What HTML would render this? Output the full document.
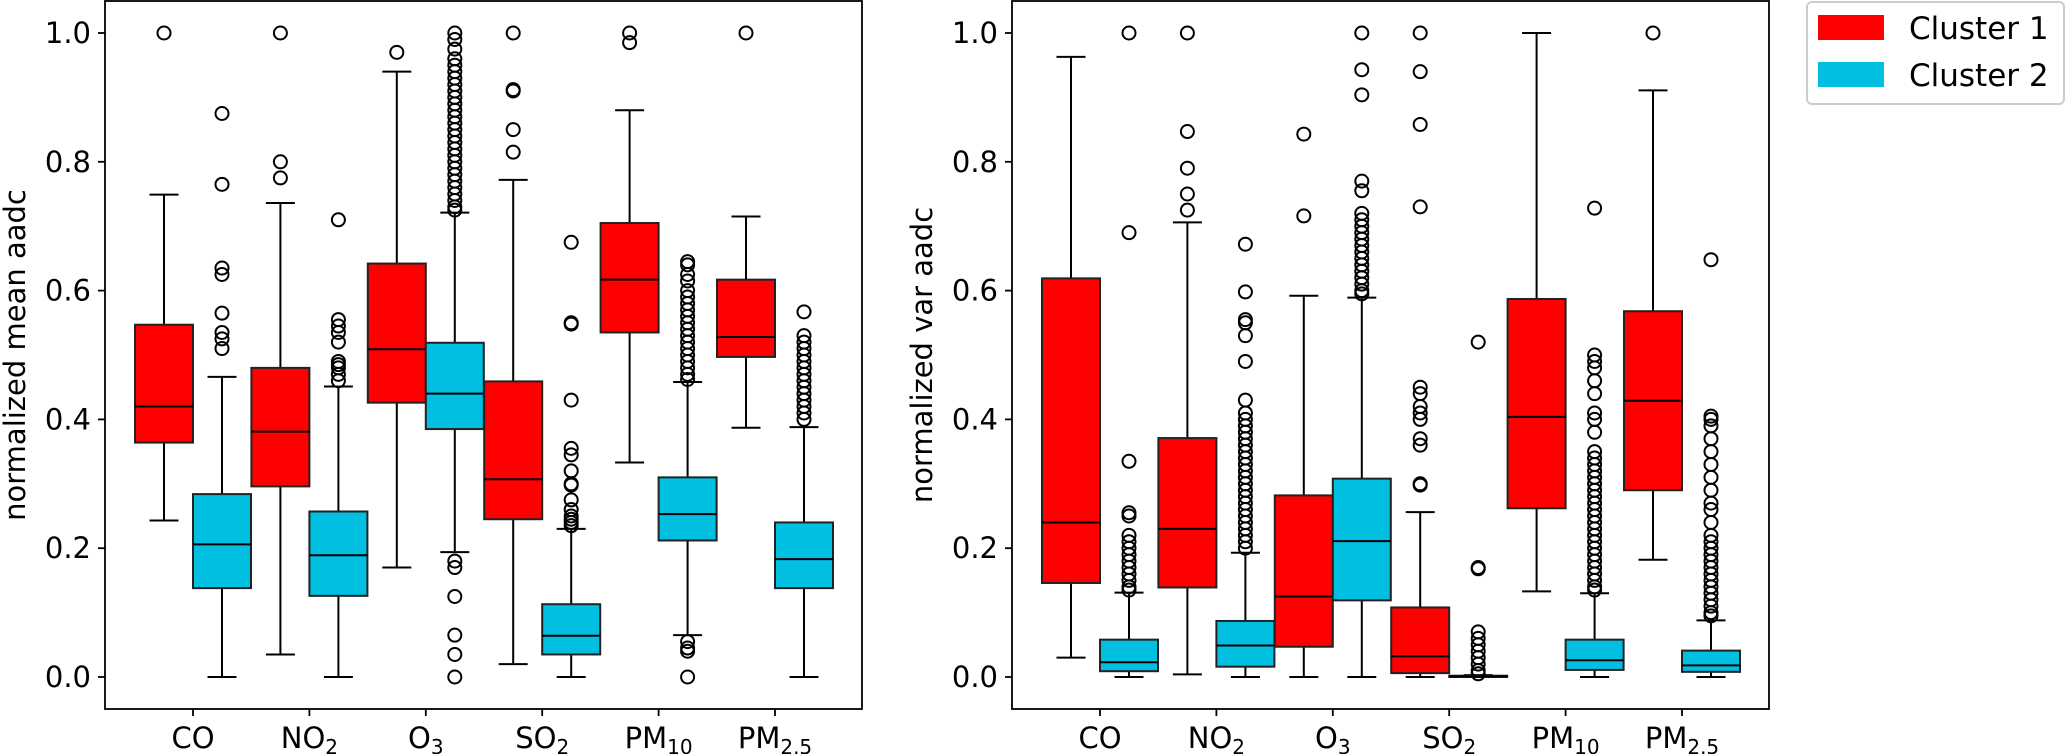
<!DOCTYPE html>
<html><head><meta charset="utf-8"><style>
html,body{margin:0;padding:0;background:#fff;}
svg{display:block;font-family:"DejaVu Sans","Liberation Sans",sans-serif;}
</style></head><body>
<svg id="chart" width="2067" height="754" viewBox="0 0 2067 754" xmlns="http://www.w3.org/2000/svg">
<g id="legend">
<rect x="1807" y="2" width="257" height="102" rx="5" fill="#fff" stroke="#ccc" stroke-width="2"/>
<g><rect x="1818" y="15" width="66" height="25" fill="#ff0000"/><text x="1909" y="39" font-size="31">Cluster 1</text></g>
<g><rect x="1818" y="62" width="66" height="25" fill="#00bfe0"/><text x="1909" y="86" font-size="31">Cluster 2</text></g>
</g>
</svg>
<script>
const categories = ["CO","NO2","O3","SO2","PM10","PM2.5"];
const yTicks = [0.0,0.2,0.4,0.6,0.8,1.0];
// [whiskerLow, Q1, median, Q3, whiskerHigh] per category
const meanCluster1 = [[0.243,0.364,0.42,0.547,0.749],[0.035,0.296,0.381,0.48,0.736],[0.17,0.426,0.509,0.642,0.94],[0.02,0.245,0.307,0.459,0.772],[0.333,0.535,0.617,0.705,0.88],[0.387,0.497,0.528,0.617,0.715]];
const meanCluster2 = [[0,0.138,0.206,0.284,0.466],[0,0.126,0.189,0.257,0.451],[0.194,0.385,0.44,0.519,0.721],[0,0.035,0.064,0.113,0.23],[0.065,0.212,0.253,0.31,0.458],[0,0.138,0.183,0.24,0.388]];
const meanOut1 = [[1.0],[1.0,0.80,0.775],[0.97],[1.0,0.912,0.91,0.85,0.815],[1.0,0.985],[1.0]];
const meanOut2 = [
 [0.875,0.765,0.635,0.625,0.565,0.535,0.525,0.51],
 [0.71,0.555,0.545,0.535,0.52,0.49,0.485,0.48,0.47,0.46],
 [1.0,0.99,0.975,0.96,0.95,0.94,0.93,0.92,0.91,0.9,0.89,0.88,0.87,0.86,0.85,0.84,0.83,0.82,0.81,0.8,0.79,0.78,0.77,0.76,0.75,0.74,0.73,0.725,0.18,0.17,0.125,0.065,0.035,0],
 [0.675,0.55,0.548,0.43,0.355,0.345,0.32,0.3,0.298,0.275,0.26,0.25,0.245,0.24,0.235],
 [0.645,0.64,0.625,0.615,0.6,0.59,0.58,0.57,0.56,0.55,0.54,0.53,0.52,0.51,0.5,0.49,0.48,0.47,0.462,0.055,0.045,0.04,0],
 [0.567,0.53,0.52,0.51,0.5,0.49,0.48,0.47,0.46,0.45,0.44,0.43,0.42,0.41,0.4]];
const varCluster1 = [[0.03,0.146,0.24,0.619,0.963],[0.004,0.139,0.23,0.371,0.706],[0,0.047,0.125,0.282,0.592],[0,0.006,0.032,0.108,0.256],[0.133,0.262,0.404,0.587,1.0],[0.182,0.29,0.429,0.568,0.911]];
const varCluster2 = [[0,0.009,0.023,0.058,0.131],[0,0.016,0.049,0.087,0.193],[0,0.119,0.211,0.308,0.589],[0,0,0.001,0.002,0.003],[0,0.011,0.026,0.058,0.13],[0,0.008,0.018,0.041,0.088]];
const varOut1 = [[],[1.0,0.847,0.79,0.75,0.725],[0.843,0.716],[1.0,0.94,0.858,0.73,0.45,0.44,0.42,0.41,0.4,0.37,0.36,0.3,0.298],[],[1.0]];
const varOut2 = [
 [1.0,0.69,0.335,0.255,0.25,0.22,0.21,0.2,0.19,0.18,0.17,0.16,0.15,0.14,0.135],
 [0.672,0.598,0.555,0.55,0.53,0.49,0.43,0.41,0.4,0.39,0.38,0.37,0.36,0.35,0.34,0.33,0.32,0.31,0.3,0.29,0.28,0.27,0.26,0.25,0.24,0.23,0.22,0.21,0.2],
 [1.0,0.943,0.904,0.77,0.755,0.72,0.71,0.7,0.69,0.68,0.67,0.66,0.65,0.64,0.63,0.62,0.61,0.6,0.595],
 [0.52,0.17,0.168,0.07,0.06,0.05,0.04,0.03,0.02,0.01,0.005],
 [0.728,0.5,0.49,0.48,0.46,0.44,0.41,0.4,0.38,0.35,0.34,0.33,0.32,0.31,0.3,0.29,0.28,0.27,0.26,0.25,0.24,0.23,0.22,0.21,0.2,0.19,0.18,0.17,0.16,0.15,0.14,0.135],
 [0.648,0.405,0.4,0.39,0.37,0.35,0.33,0.31,0.29,0.27,0.26,0.24,0.22,0.21,0.2,0.19,0.18,0.17,0.16,0.15,0.14,0.13,0.12,0.11,0.1,0.095]];

const NS = "http://www.w3.org/2000/svg";
const svg = document.getElementById('chart');
const Y0 = 677, YS = 644;
function yScale(v){ return Y0 - v*YS; }
function mk(tag, attrs, parent){ const e=document.createElementNS(NS,tag); for(const k in attrs) e.setAttribute(k,attrs[k]); parent.appendChild(e); return e; }

function panel(left, right, firstTick, c1, c2, o1, o2, ylabel, pname){
  const g = mk('g',{},svg);
  
  
  const step = 116.4, bw = 58;
  function xScale(i){ return firstTick + i*step; }
  yTicks.forEach(t=>{
    const y=yScale(t);
    const l=mk('line',{x1:left-7,x2:left,y1:y,y2:y,stroke:'#000','stroke-width':1.8},g);
    
    
    const tx=mk('text',{x:left-14,y:y+10,'font-size':29,'text-anchor':'end'},g);
    tx.textContent=t.toFixed(1);
    
    
  });
  const yl=mk('text',{x:0,y:0,'font-size':29,'text-anchor':'middle',transform:`translate(${left-80},${355}) rotate(-90)`},g);
  yl.textContent=ylabel;
  
  
  function drawBox(d, outs, x0, color, name){
    const bg=mk('g',{},g);
    
    
    const cx=x0+bw/2;
    const [lo,q1,md,q3,hi]=d;
    mk('line',{x1:cx,x2:cx,y1:yScale(q1),y2:yScale(lo),stroke:'#000','stroke-width':2},bg);
    mk('line',{x1:cx,x2:cx,y1:yScale(q3),y2:yScale(hi),stroke:'#000','stroke-width':2},bg);
    mk('line',{x1:cx-bw/4,x2:cx+bw/4,y1:yScale(lo),y2:yScale(lo),stroke:'#000','stroke-width':2},bg);
    mk('line',{x1:cx-bw/4,x2:cx+bw/4,y1:yScale(hi),y2:yScale(hi),stroke:'#000','stroke-width':2},bg);
    mk('rect',{x:x0,y:yScale(q3),width:bw,height:Math.max(yScale(q1)-yScale(q3),0.5),fill:color,stroke:'#222','stroke-width':2},bg);
    mk('line',{x1:x0,x2:x0+bw,y1:yScale(md),y2:yScale(md),stroke:'#000','stroke-width':2},bg);
    outs.forEach(v=>{
      const c=mk('circle',{cx:cx,cy:yScale(v),r:6.5,fill:'none',stroke:'#000','stroke-width':2},bg);
      
      
    });
  }
  categories.forEach((cat,i)=>{
    const x=xScale(i);
    drawBox(c1[i],o1[i],x-bw,'#ff0000','box-cluster-1-'+cat.toLowerCase().replace('.',''));
    drawBox(c2[i],o2[i],x,'#00bfe0','box-cluster-2-'+cat.toLowerCase().replace('.',''));
    const tk=mk('line',{x1:x,x2:x,y1:709,y2:716,stroke:'#000','stroke-width':1.8},g);
    
    
    const t=mk('text',{x:x,y:748,'font-size':29,'text-anchor':'middle'},g);
    
    
    const m=cat.match(/^([A-Z]+?)(\d[\d.]*)$/);
    if(m && cat!=="CO"){
      const a=document.createElementNS(NS,'tspan'); a.textContent=m[1]; t.appendChild(a);
      const b=document.createElementNS(NS,'tspan'); b.textContent=m[2]; b.setAttribute('font-size','20'); b.setAttribute('dy','6'); t.appendChild(b);
    } else t.textContent=cat;
  });
  const fr=mk('rect',{x:left,y:1,width:right-left,height:708,fill:'none',stroke:'#000','stroke-width':1.8},g);
  
  
}
panel(105, 862, 193, meanCluster1, meanCluster2, meanOut1, meanOut2, 'normalized mean aadc', 'mean-aadc-panel');
panel(1012, 1769, 1100, varCluster1, varCluster2, varOut1, varOut2, 'normalized var aadc', 'var-aadc-panel');
svg.appendChild(document.getElementById('legend'));
</script>
</body></html>
